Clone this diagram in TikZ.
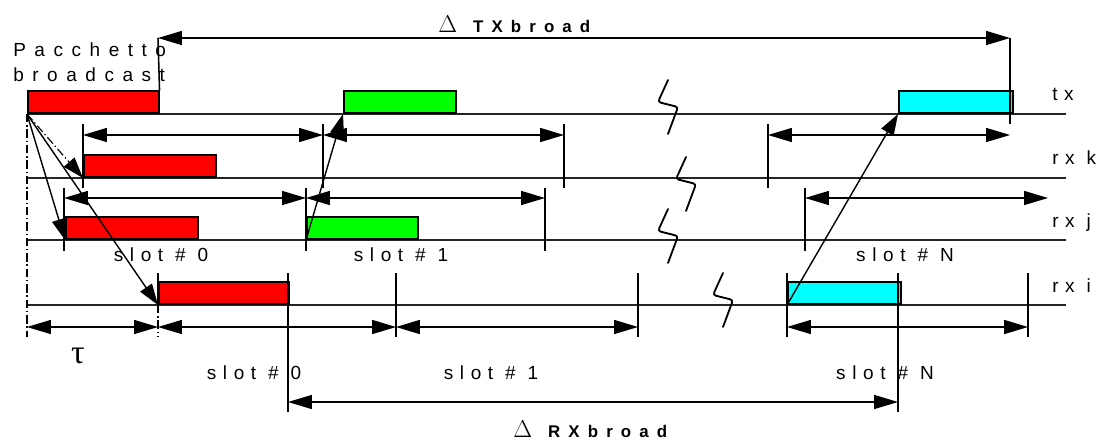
\documentclass[tikz,border=0pt]{standalone}
\usepackage{fontspec}
\setmainfont{Liberation Sans}
\newfontfamily\greekfont{Liberation Serif}
\usepackage{tikz}
\usetikzlibrary{arrows.meta}

\definecolor{pktred}{RGB}{255,0,0}
\definecolor{pktgreen}{RGB}{0,255,0}
\definecolor{pktcyan}{RGB}{0,255,255}

\tikzset{
  lane/.style={line width=0.8pt, black!85},
  pkt/.style={draw, line width=1.1pt, minimum height=0.55cm, inner sep=0pt, anchor=south west},
  tick/.style={line width=1.1pt},
  dim/.style={line width=0.8pt, {Triangle[length=17pt,width=10pt]}-{Triangle[length=17pt,width=10pt]}},
  hop/.style={line width=1pt, -{Triangle[length=15pt,width=10pt]}},
  dd/.style={line width=0.8pt, dash pattern=on 6pt off 2pt on 1pt off 2pt},
  brk/.style={line width=1.3pt, rounded corners=2pt, line cap=round},
  lbl/.style={inner sep=0pt, anchor=base, font=\fontsize{13.5}{16}\selectfont\addfontfeatures{LetterSpace=35}},
  delta/.style={inner sep=0pt, anchor=base west, font=\fontsize{16}{18}\selectfont},
}
\newcommand\bcast[1]{$\Delta$\hspace{11.5pt}{\fontsize{12}{14}\selectfont\bfseries\addfontfeatures{LetterSpace=48}#1}}

\begin{document}
\begin{tikzpicture}[x=0.025cm, y=-0.025cm]
  \useasboundingbox (0,0) rectangle (1108,441);
  \foreach \y in {114,178,240,305}
    \draw[lane] (27,\y) -- (1066,\y);

  \node[pkt, fill=pktred, minimum width=131*0.025cm] (txA) at (27,114) {};
  \node[pkt, fill=pktgreen, minimum width=112*0.025cm] (txB) at (343,114) {};
  \node[pkt, fill=pktcyan, minimum width=114*0.025cm] (txC) at (898,114) {};
  \node[pkt, fill=pktred, minimum width=132*0.025cm] (rkA) at (83,178) {};
  \node[pkt, fill=pktred, minimum width=132*0.025cm] (rjA) at (65,240) {};
  \node[pkt, fill=pktgreen, minimum width=111*0.025cm] (rjB) at (306,240) {};
  \node[pkt, fill=pktred, minimum width=130*0.025cm] (riA) at (158,305) {};
  \node[pkt, fill=pktcyan, minimum width=113*0.025cm] (riB) at (787,305) {};

  \draw[dd] (txA.south west) -- (27,337);
  \draw[hop, dd] (txA.south west) -- (rkA.south west);
  \draw[hop] (txA.south west) -- (rjA.south west);
  \draw[hop] (txA.south west) -- (riA.south west);
  \draw[hop] (rjB.south west) -- (txB.south west);
  \draw[hop] (riB.south west) -- (txC.south west);

  \foreach \n/\x in {k0/83,k1/323,k2/564,k3/768,k4/1010}
    \coordinate (\n) at (\x,135);
  \foreach \n in {k0,k1,k2,k3}
    \draw[tick] (\n) +(0,-11) -- +(0,53);
  \draw[dim] (k0) -- (k1);
  \draw[dim] (k1) -- (k2);
  \draw[dim] (k3) -- (k4);

  \foreach \n/\x in {j0/64,j1/306,j2/545,j3/805,j4/1048}
    \coordinate (\n) at (\x,198);
  \foreach \n in {j0,j1,j2,j3}
    \draw[tick] (\n) +(0,-10) -- +(0,53);
  \draw[dim] (j0) -- (j1);
  \draw[dim] (j1) -- (j2);
  \draw[dim] (j3) -- (j4);

  \foreach \n/\x in {i0/27,i1/158,i2/396,i3/638,i4/787,i5/1028}
    \coordinate (\n) at (\x,327);
  \foreach \n in {i2,i3,i4,i5}
    \draw[tick] (\n) +(0,-54) -- +(0,10);
  \draw[tick] (i1) +(0,-54) -- +(0,-22);
  \draw[dd] (i1) +(0,-22) -- +(0,10);
  \draw[dim] (i0) -- (i1);
  \draw[dim] (i1) -- (i2);
  \draw[dim] (i2) -- (i3);
  \draw[dim] (i4) -- (i5);

  \coordinate (t0) at (158,38);
  \coordinate (t1) at (1010,38);
  \draw[dim] (t0) -- (t1);
  \draw[tick] (t0) -- (txA.north east);
  \draw[tick] (t1) -- +(0,86);

  \coordinate (r0) at (288,402);
  \coordinate (r1) at (898,402);
  \draw[dim] (r0) -- (r1);
  \draw[tick] (r0) +(0,-129) -- +(0,10);
  \draw[tick] (r1) +(0,-129) -- +(0,10);

  \foreach \x/\y in {668/80,686/157,668/209,723/273}
    \draw[brk] (\x,\y) -- ++(-10,22) -- ++(20,5) -- ++(-10,27);

  \node[lbl, anchor=base west, font=\fontsize{13.5}{16}\selectfont\addfontfeatures{LetterSpace=45}] (pk1) at (13,56) {Pacchetto};
  \node[lbl, anchor=base west, font=\fontsize{13.5}{16}\selectfont\addfontfeatures{LetterSpace=45}] (pk2) at (13,81) {broadcast};
  \node[lbl, anchor=base west] (tx) at (1052,100) {tx};
  \node[lbl, anchor=base west] (rxk) at (1052,164) {rx k};
  \node[lbl, anchor=base west] (rxj) at (1052,227) {rx j};
  \node[lbl, anchor=base west] (rxi) at (1052,292) {rx i};
  \node[lbl] (sj0) at (161,261) {slot \# 0};
  \node[lbl] (sj1) at (401,261) {slot \# 1};
  \node[lbl] (sjN) at (905,261) {slot \# N};
  \node[lbl] (si0) at (254,379) {slot \# 0};
  \node[lbl] (si1) at (491,379) {slot \# 1};
  \node[lbl] (siN) at (885,379) {slot \# N};
  \node[font=\fontsize{24}{26}\selectfont\greekfont, inner sep=0pt, anchor=base] (tau) at (78,363) {τ};
  \node[delta] (dtx) at (438,32) {\bcast{TXbroad}};
  \node[delta] (drx) at (513,437) {\bcast{RXbroad}};
\end{tikzpicture}
\end{document}
